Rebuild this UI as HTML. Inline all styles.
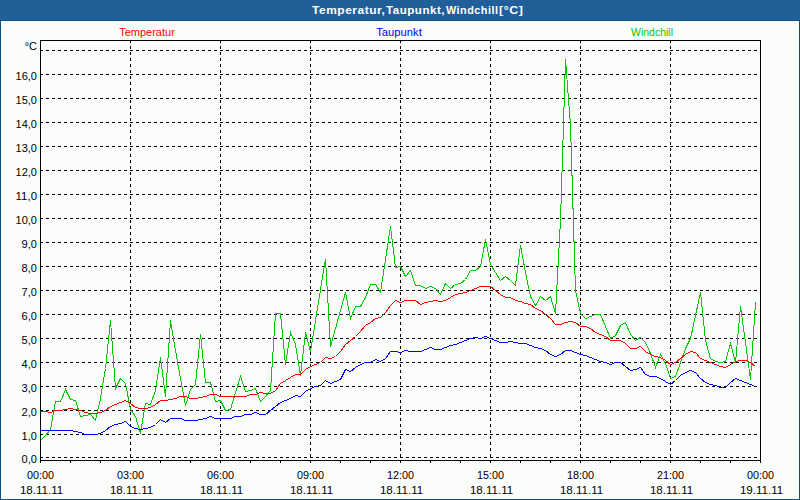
<!DOCTYPE html>
<html><head><meta charset="utf-8"><style>
html,body{margin:0;padding:0;width:800px;height:500px;overflow:hidden;background:#fbfdfb;}
svg{display:block;}
text{font-family:"Liberation Sans", sans-serif;}
</style></head><body>
<svg width="800" height="500" viewBox="0 0 800 500">
<g shape-rendering="crispEdges">
<rect x="0" y="0" width="800" height="500" fill="#fbfdfb"/>
<defs><pattern id="dith" x="0" y="0" width="8" height="4" patternUnits="userSpaceOnUse"><rect width="8" height="4" fill="#1f5f96"/><rect x="0" y="0" width="1" height="1" fill="#2462b0"/><rect x="4" y="2" width="1" height="1" fill="#2462b0"/><rect x="3" y="1" width="1" height="1" fill="#2361aa"/><rect x="6" y="3" width="1" height="1" fill="#2361aa"/></pattern></defs>
<rect x="0" y="0" width="800" height="20" fill="url(#dith)"/>
<rect x="0" y="20" width="800" height="1" fill="#0f4f86"/>
<rect x="0" y="21" width="1" height="479" fill="#0f4f86"/>
<rect x="799" y="21" width="1" height="479" fill="#0f4f86"/>
<rect x="0" y="499" width="800" height="1" fill="#0f4f86"/>
<line x1="40" y1="457.5" x2="760" y2="457.5" stroke="#000" stroke-dasharray="3 3"/>
<line x1="40" y1="434.5" x2="760" y2="434.5" stroke="#000" stroke-dasharray="3 3"/>
<line x1="40" y1="410.5" x2="760" y2="410.5" stroke="#000" stroke-dasharray="3 3"/>
<line x1="40" y1="386.5" x2="760" y2="386.5" stroke="#000" stroke-dasharray="3 3"/>
<line x1="40" y1="362.5" x2="760" y2="362.5" stroke="#000" stroke-dasharray="3 3"/>
<line x1="40" y1="338.5" x2="760" y2="338.5" stroke="#000" stroke-dasharray="3 3"/>
<line x1="40" y1="314.5" x2="760" y2="314.5" stroke="#000" stroke-dasharray="3 3"/>
<line x1="40" y1="290.5" x2="760" y2="290.5" stroke="#000" stroke-dasharray="3 3"/>
<line x1="40" y1="266.5" x2="760" y2="266.5" stroke="#000" stroke-dasharray="3 3"/>
<line x1="40" y1="242.5" x2="760" y2="242.5" stroke="#000" stroke-dasharray="3 3"/>
<line x1="40" y1="218.5" x2="760" y2="218.5" stroke="#000" stroke-dasharray="3 3"/>
<line x1="40" y1="194.5" x2="760" y2="194.5" stroke="#000" stroke-dasharray="3 3"/>
<line x1="40" y1="170.5" x2="760" y2="170.5" stroke="#000" stroke-dasharray="3 3"/>
<line x1="40" y1="146.5" x2="760" y2="146.5" stroke="#000" stroke-dasharray="3 3"/>
<line x1="40" y1="122.5" x2="760" y2="122.5" stroke="#000" stroke-dasharray="3 3"/>
<line x1="40" y1="98.5" x2="760" y2="98.5" stroke="#000" stroke-dasharray="3 3"/>
<line x1="40" y1="74.5" x2="760" y2="74.5" stroke="#000" stroke-dasharray="3 3"/>
<line x1="40" y1="50.5" x2="760" y2="50.5" stroke="#000" stroke-dasharray="3 3"/>
<line x1="130.5" y1="40" x2="130.5" y2="460" stroke="#000" stroke-dasharray="3 3"/>
<line x1="220.5" y1="40" x2="220.5" y2="460" stroke="#000" stroke-dasharray="3 3"/>
<line x1="310.5" y1="40" x2="310.5" y2="460" stroke="#000" stroke-dasharray="3 3"/>
<line x1="400.5" y1="40" x2="400.5" y2="460" stroke="#000" stroke-dasharray="3 3"/>
<line x1="490.5" y1="40" x2="490.5" y2="460" stroke="#000" stroke-dasharray="3 3"/>
<line x1="580.5" y1="40" x2="580.5" y2="460" stroke="#000" stroke-dasharray="3 3"/>
<line x1="670.5" y1="40" x2="670.5" y2="460" stroke="#000" stroke-dasharray="3 3"/>
<rect x="40.5" y="40.5" width="720" height="420" fill="none" stroke="#000"/>
<rect x="40" y="460" width="1" height="3" fill="#000"/>
<rect x="70" y="460" width="1" height="3" fill="#000"/>
<rect x="100" y="460" width="1" height="3" fill="#000"/>
<rect x="130" y="460" width="1" height="3" fill="#000"/>
<rect x="160" y="460" width="1" height="3" fill="#000"/>
<rect x="190" y="460" width="1" height="3" fill="#000"/>
<rect x="220" y="460" width="1" height="3" fill="#000"/>
<rect x="250" y="460" width="1" height="3" fill="#000"/>
<rect x="280" y="460" width="1" height="3" fill="#000"/>
<rect x="310" y="460" width="1" height="3" fill="#000"/>
<rect x="340" y="460" width="1" height="3" fill="#000"/>
<rect x="370" y="460" width="1" height="3" fill="#000"/>
<rect x="400" y="460" width="1" height="3" fill="#000"/>
<rect x="430" y="460" width="1" height="3" fill="#000"/>
<rect x="460" y="460" width="1" height="3" fill="#000"/>
<rect x="490" y="460" width="1" height="3" fill="#000"/>
<rect x="520" y="460" width="1" height="3" fill="#000"/>
<rect x="550" y="460" width="1" height="3" fill="#000"/>
<rect x="580" y="460" width="1" height="3" fill="#000"/>
<rect x="610" y="460" width="1" height="3" fill="#000"/>
<rect x="640" y="460" width="1" height="3" fill="#000"/>
<rect x="670" y="460" width="1" height="3" fill="#000"/>
<rect x="700" y="460" width="1" height="3" fill="#000"/>
<rect x="730" y="460" width="1" height="3" fill="#000"/>
<rect x="760" y="460" width="1" height="3" fill="#000"/>
<polyline points="40.5,440.5 45.5,435.5 50.5,429.5 55.5,401.5 60.5,401.5 65.5,389.5 70.5,399.5 75.5,400.5 80.5,416.5 85.5,415.5 90.5,414.5 95.5,420.5 100.5,398.5 105.5,368.5 110.5,320.5 115.5,388.5 120.5,378.5 125.5,383.5 130.5,409.5 135.5,416.5 140.5,433.5 145.5,403.5 150.5,404.5 155.5,390.5 160.5,357.5 165.5,396.5 170.5,320.5 175.5,350.5 180.5,378.5 185.5,405.5 190.5,389.5 195.5,384.5 200.5,334.5 205.5,382.5 210.5,382.5 215.5,401.5 220.5,400.5 225.5,410.5 230.5,409.5 235.5,392.5 240.5,376.5 245.5,391.5 250.5,390.5 255.5,388.5 260.5,401.5 265.5,396.5 270.5,390.5 275.5,313.5 280.5,313.5 285.5,364.5 290.5,332.5 295.5,344.5 300.5,375.5 305.5,332.5 310.5,351.5 315.5,320.5 320.5,289.5 325.5,259.5 330.5,346.5 335.5,328.5 340.5,310.5 345.5,292.5 350.5,318.5 355.5,306.5 360.5,306.5 365.5,297.5 370.5,284.5 375.5,284.5 380.5,292.5 385.5,259.5 390.5,226.5 395.5,267.5 400.5,266.5 405.5,276.5 410.5,270.5 415.5,285.5 420.5,285.5 425.5,288.5 430.5,286.5 435.5,288.5 440.5,294.5 445.5,283.5 450.5,288.5 455.5,284.5 460.5,283.5 465.5,279.5 470.5,270.5 475.5,270.5 480.5,266.5 485.5,239.5 490.5,264.5 495.5,272.5 500.5,280.5 505.5,276.5 510.5,280.5 515.5,285.5 520.5,245.5 525.5,272.5 530.5,296.5 535.5,305.5 540.5,296.5 545.5,300.5 550.5,296.5 555.5,313.5 560.5,220.5 565.5,59.5 570.5,125.5 575.5,290.5 580.5,313.5 585.5,318.5 590.5,316.5 595.5,314.5 600.5,314.5 605.5,326.5 610.5,338.5 615.5,335.5 620.5,325.5 625.5,322.5 630.5,334.5 635.5,340.5 640.5,337.5 645.5,342.5 650.5,353.5 655.5,367.5 660.5,354.5 665.5,363.5 670.5,378.5 675.5,376.5 680.5,362.5 685.5,348.5 690.5,338.5 695.5,315.5 700.5,292.5 705.5,340.5 710.5,358.5 715.5,361.5 720.5,362.5 725.5,361.5 730.5,343.5 735.5,362.5 740.5,306.5 745.5,342.5 750.5,379.5 755.5,302.5" fill="none" stroke="#00c800" stroke-width="1"/>
<polyline points="40.5,411.5 45.5,411.5 50.5,412.5 55.5,410.5 60.5,410.5 65.5,409.5 70.5,408.5 75.5,409.5 80.5,410.5 85.5,412.5 90.5,413.5 95.5,413.5 100.5,412.5 105.5,410.5 110.5,406.5 115.5,404.5 120.5,402.5 125.5,400.5 130.5,403.5 135.5,407.5 140.5,408.5 145.5,408.5 150.5,407.5 155.5,404.5 160.5,400.5 165.5,400.5 170.5,399.5 175.5,398.5 180.5,396.5 185.5,396.5 190.5,398.5 195.5,398.5 200.5,397.5 205.5,396.5 210.5,394.5 215.5,394.5 220.5,396.5 225.5,396.5 230.5,396.5 235.5,396.5 240.5,396.5 245.5,396.5 250.5,394.5 255.5,394.5 260.5,392.5 265.5,393.5 270.5,393.5 275.5,390.5 280.5,383.5 285.5,380.5 290.5,377.5 295.5,374.5 300.5,374.5 305.5,369.5 310.5,366.5 315.5,364.5 320.5,362.5 325.5,357.5 330.5,358.5 335.5,356.5 340.5,351.5 345.5,344.5 350.5,340.5 355.5,336.5 360.5,331.5 365.5,325.5 370.5,322.5 375.5,318.5 380.5,317.5 385.5,312.5 390.5,305.5 395.5,300.5 400.5,302.5 405.5,300.5 410.5,300.5 415.5,300.5 420.5,304.5 425.5,302.5 430.5,301.5 435.5,300.5 440.5,301.5 445.5,300.5 450.5,297.5 455.5,294.5 460.5,293.5 465.5,292.5 470.5,290.5 475.5,288.5 480.5,286.5 485.5,286.5 490.5,286.5 495.5,290.5 500.5,294.5 505.5,297.5 510.5,297.5 515.5,300.5 520.5,301.5 525.5,303.5 530.5,304.5 535.5,308.5 540.5,310.5 545.5,314.5 550.5,318.5 555.5,324.5 560.5,324.5 565.5,322.5 570.5,321.5 575.5,322.5 580.5,326.5 585.5,326.5 590.5,328.5 595.5,332.5 600.5,334.5 605.5,336.5 610.5,340.5 615.5,340.5 620.5,340.5 625.5,343.5 630.5,348.5 635.5,348.5 640.5,346.5 645.5,351.5 650.5,354.5 655.5,356.5 660.5,357.5 665.5,360.5 670.5,364.5 675.5,362.5 680.5,358.5 685.5,354.5 690.5,351.5 695.5,352.5 700.5,358.5 705.5,360.5 710.5,362.5 715.5,364.5 720.5,366.5 725.5,367.5 730.5,364.5 735.5,361.5 740.5,360.5 745.5,360.5 750.5,362.5 755.5,366.5" fill="none" stroke="#ff0000" stroke-width="1"/>
<polyline points="40.5,430.5 45.5,430.5 50.5,430.5 55.5,430.5 60.5,430.5 65.5,430.5 70.5,430.5 75.5,431.5 80.5,432.5 85.5,434.5 90.5,434.5 95.5,434.5 100.5,433.5 105.5,430.5 110.5,426.5 115.5,424.5 120.5,423.5 125.5,421.5 130.5,426.5 135.5,428.5 140.5,429.5 145.5,428.5 150.5,427.5 155.5,424.5 160.5,419.5 165.5,422.5 170.5,418.5 175.5,418.5 180.5,418.5 185.5,420.5 190.5,420.5 195.5,420.5 200.5,419.5 205.5,418.5 210.5,416.5 215.5,418.5 220.5,418.5 225.5,418.5 230.5,418.5 235.5,416.5 240.5,416.5 245.5,414.5 250.5,414.5 255.5,412.5 260.5,414.5 265.5,414.5 270.5,410.5 275.5,406.5 280.5,402.5 285.5,400.5 290.5,398.5 295.5,395.5 300.5,396.5 305.5,391.5 310.5,388.5 315.5,386.5 320.5,385.5 325.5,380.5 330.5,383.5 335.5,381.5 340.5,379.5 345.5,369.5 350.5,371.5 355.5,367.5 360.5,364.5 365.5,362.5 370.5,362.5 375.5,359.5 380.5,361.5 385.5,358.5 390.5,351.5 395.5,351.5 400.5,352.5 405.5,350.5 410.5,351.5 415.5,351.5 420.5,351.5 425.5,349.5 430.5,347.5 435.5,349.5 440.5,349.5 445.5,347.5 450.5,345.5 455.5,344.5 460.5,342.5 465.5,340.5 470.5,338.5 475.5,337.5 480.5,338.5 485.5,336.5 490.5,338.5 495.5,340.5 500.5,342.5 505.5,342.5 510.5,341.5 515.5,342.5 520.5,343.5 525.5,343.5 530.5,345.5 535.5,347.5 540.5,348.5 545.5,350.5 550.5,354.5 555.5,356.5 560.5,354.5 565.5,350.5 570.5,350.5 575.5,352.5 580.5,354.5 585.5,355.5 590.5,357.5 595.5,359.5 600.5,361.5 605.5,362.5 610.5,364.5 615.5,362.5 620.5,362.5 625.5,366.5 630.5,370.5 635.5,369.5 640.5,367.5 645.5,374.5 650.5,376.5 655.5,376.5 660.5,378.5 665.5,381.5 670.5,384.5 675.5,380.5 680.5,375.5 685.5,372.5 690.5,370.5 695.5,372.5 700.5,378.5 705.5,382.5 710.5,384.5 715.5,385.5 720.5,387.5 725.5,387.5 730.5,382.5 735.5,378.5 740.5,380.5 745.5,382.5 750.5,384.5 755.5,386.5" fill="none" stroke="#0000ff" stroke-width="1"/>
</g>
<g>
<text x="312.0" y="14" text-anchor="start" fill="#fff" font-weight="bold" font-size="11" textLength="73.47" lengthAdjust="spacingAndGlyphs" letter-spacing="0.5">Temperatur,</text>
<text x="386.0" y="14" text-anchor="start" fill="#fff" font-weight="bold" font-size="11" textLength="59.1" lengthAdjust="spacingAndGlyphs" letter-spacing="0.5">Taupunkt,</text>
<text x="446.0" y="14" text-anchor="start" fill="#fff" font-weight="bold" font-size="11" textLength="52.46" lengthAdjust="spacingAndGlyphs" letter-spacing="0.5">Windchill</text>
<text x="499.0" y="14" text-anchor="start" fill="#fff" font-weight="bold" font-size="11" textLength="24.39" lengthAdjust="spacingAndGlyphs" letter-spacing="0.5">[°C]</text>
<text x="147" y="36" text-anchor="middle" fill="#ff0000" font-weight="normal" font-size="11" textLength="55.64" lengthAdjust="spacingAndGlyphs">Temperatur</text>
<text x="399" y="36" text-anchor="middle" fill="#0000ff" font-weight="normal" font-size="11" textLength="45.67" lengthAdjust="spacingAndGlyphs">Taupunkt</text>
<text x="652" y="36" text-anchor="middle" fill="#00c800" font-weight="normal" font-size="11" textLength="41.97" lengthAdjust="spacingAndGlyphs">Windchill</text>
<text x="37" y="50" text-anchor="end" fill="#000" font-weight="normal" font-size="11" textLength="12.34" lengthAdjust="spacingAndGlyphs">°C</text>
<text x="37" y="463" text-anchor="end" fill="#000" font-weight="normal" font-size="11" textLength="15.37" lengthAdjust="spacingAndGlyphs">0,0</text>
<text x="37" y="440" text-anchor="end" fill="#000" font-weight="normal" font-size="11" textLength="15.37" lengthAdjust="spacingAndGlyphs">1,0</text>
<text x="37" y="416" text-anchor="end" fill="#000" font-weight="normal" font-size="11" textLength="15.37" lengthAdjust="spacingAndGlyphs">2,0</text>
<text x="37" y="392" text-anchor="end" fill="#000" font-weight="normal" font-size="11" textLength="15.37" lengthAdjust="spacingAndGlyphs">3,0</text>
<text x="37" y="368" text-anchor="end" fill="#000" font-weight="normal" font-size="11" textLength="15.37" lengthAdjust="spacingAndGlyphs">4,0</text>
<text x="37" y="344" text-anchor="end" fill="#000" font-weight="normal" font-size="11" textLength="15.37" lengthAdjust="spacingAndGlyphs">5,0</text>
<text x="37" y="320" text-anchor="end" fill="#000" font-weight="normal" font-size="11" textLength="15.37" lengthAdjust="spacingAndGlyphs">6,0</text>
<text x="37" y="296" text-anchor="end" fill="#000" font-weight="normal" font-size="11" textLength="15.37" lengthAdjust="spacingAndGlyphs">7,0</text>
<text x="37" y="272" text-anchor="end" fill="#000" font-weight="normal" font-size="11" textLength="15.37" lengthAdjust="spacingAndGlyphs">8,0</text>
<text x="37" y="248" text-anchor="end" fill="#000" font-weight="normal" font-size="11" textLength="15.37" lengthAdjust="spacingAndGlyphs">9,0</text>
<text x="37" y="224" text-anchor="end" fill="#000" font-weight="normal" font-size="11" textLength="21.42" lengthAdjust="spacingAndGlyphs">10,0</text>
<text x="37" y="200" text-anchor="end" fill="#000" font-weight="normal" font-size="11" textLength="21.42" lengthAdjust="spacingAndGlyphs">11,0</text>
<text x="37" y="176" text-anchor="end" fill="#000" font-weight="normal" font-size="11" textLength="21.42" lengthAdjust="spacingAndGlyphs">12,0</text>
<text x="37" y="152" text-anchor="end" fill="#000" font-weight="normal" font-size="11" textLength="21.42" lengthAdjust="spacingAndGlyphs">13,0</text>
<text x="37" y="128" text-anchor="end" fill="#000" font-weight="normal" font-size="11" textLength="21.42" lengthAdjust="spacingAndGlyphs">14,0</text>
<text x="37" y="104" text-anchor="end" fill="#000" font-weight="normal" font-size="11" textLength="21.42" lengthAdjust="spacingAndGlyphs">15,0</text>
<text x="37" y="80" text-anchor="end" fill="#000" font-weight="normal" font-size="11" textLength="21.42" lengthAdjust="spacingAndGlyphs">16,0</text>
<text x="40.5" y="479" text-anchor="middle" fill="#000" font-weight="normal" font-size="11" textLength="27.07" lengthAdjust="spacingAndGlyphs">00:00</text>
<text x="41.5" y="494" text-anchor="middle" fill="#000" font-weight="normal" font-size="11" textLength="43.25" lengthAdjust="spacingAndGlyphs">18.11.11</text>
<text x="130.5" y="479" text-anchor="middle" fill="#000" font-weight="normal" font-size="11" textLength="27.07" lengthAdjust="spacingAndGlyphs">03:00</text>
<text x="131.5" y="494" text-anchor="middle" fill="#000" font-weight="normal" font-size="11" textLength="43.25" lengthAdjust="spacingAndGlyphs">18.11.11</text>
<text x="220.5" y="479" text-anchor="middle" fill="#000" font-weight="normal" font-size="11" textLength="27.07" lengthAdjust="spacingAndGlyphs">06:00</text>
<text x="221.5" y="494" text-anchor="middle" fill="#000" font-weight="normal" font-size="11" textLength="43.25" lengthAdjust="spacingAndGlyphs">18.11.11</text>
<text x="310.5" y="479" text-anchor="middle" fill="#000" font-weight="normal" font-size="11" textLength="27.07" lengthAdjust="spacingAndGlyphs">09:00</text>
<text x="311.5" y="494" text-anchor="middle" fill="#000" font-weight="normal" font-size="11" textLength="43.25" lengthAdjust="spacingAndGlyphs">18.11.11</text>
<text x="400.5" y="479" text-anchor="middle" fill="#000" font-weight="normal" font-size="11" textLength="27.07" lengthAdjust="spacingAndGlyphs">12:00</text>
<text x="401.5" y="494" text-anchor="middle" fill="#000" font-weight="normal" font-size="11" textLength="43.25" lengthAdjust="spacingAndGlyphs">18.11.11</text>
<text x="490.5" y="479" text-anchor="middle" fill="#000" font-weight="normal" font-size="11" textLength="27.07" lengthAdjust="spacingAndGlyphs">15:00</text>
<text x="491.5" y="494" text-anchor="middle" fill="#000" font-weight="normal" font-size="11" textLength="43.25" lengthAdjust="spacingAndGlyphs">18.11.11</text>
<text x="580.5" y="479" text-anchor="middle" fill="#000" font-weight="normal" font-size="11" textLength="27.07" lengthAdjust="spacingAndGlyphs">18:00</text>
<text x="581.5" y="494" text-anchor="middle" fill="#000" font-weight="normal" font-size="11" textLength="43.25" lengthAdjust="spacingAndGlyphs">18.11.11</text>
<text x="670.5" y="479" text-anchor="middle" fill="#000" font-weight="normal" font-size="11" textLength="27.07" lengthAdjust="spacingAndGlyphs">21:00</text>
<text x="671.5" y="494" text-anchor="middle" fill="#000" font-weight="normal" font-size="11" textLength="43.25" lengthAdjust="spacingAndGlyphs">18.11.11</text>
<text x="760.5" y="479" text-anchor="middle" fill="#000" font-weight="normal" font-size="11" textLength="27.07" lengthAdjust="spacingAndGlyphs">00:00</text>
<text x="761.5" y="494" text-anchor="middle" fill="#000" font-weight="normal" font-size="11" textLength="43.25" lengthAdjust="spacingAndGlyphs">19.11.11</text>
</g>
</svg>
</body></html>
